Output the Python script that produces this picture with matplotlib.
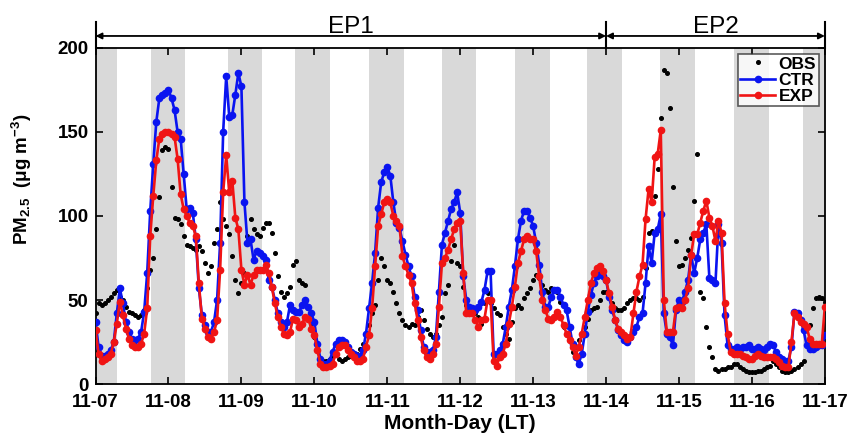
import numpy as np
import matplotlib
matplotlib.use('Agg')
import matplotlib.pyplot as plt

plt.rcParams['font.family'] = ['Liberation Sans', 'DejaVu Sans']
plt.rcParams['font.weight'] = 'bold'
plt.rcParams['mathtext.fontset'] = 'custom'
plt.rcParams['mathtext.rm'] = 'Liberation Sans:bold'
plt.rcParams['mathtext.bf'] = 'Liberation Sans:bold'
plt.rcParams['mathtext.default'] = 'bf'

# hourly PM2.5 from 11-07 00 LT to 11-17 00 LT (one row per day)
obs = [
    42, 48, 47, 48, 50, 52, 54, 56, 52, 50, 46, 43, 42, 41, 40, 41, 44, 57, 68, 75, 92, 111, 139, 141,
    140, 117, 99, 98, 95, 88, 83, 82, 81, 80, 82, 79, 72, 66, 70, 84, 92, 108, 98, 94, 89, 76, 62, 54,
    60, 66, 88, 98, 92, 89, 88, 93, 96, 96, 90, 78, 64, 55, 52, 54, 58, 71, 73, 62, 60, 59, 45, 36,
    28, 24, 14, 14, 14, 15, 17, 18, 15, 14, 15, 16, 17, 17, 18, 21, 24, 30, 35, 42, 47, 62, 75, 70,
    62, 60, 55, 48, 42, 38, 35, 34, 36, 35, 40, 44, 38, 33, 30, 28, 30, 35, 40, 54, 59, 73, 83, 72,
    70, 58, 47, 46, 46, 42, 40, 36, 48, 54, 48, 45, 42, 41, 34, 30, 27, 37, 45, 47, 45, 51, 54, 57,
    62, 65, 63, 59, 56, 55, 57, 56, 55, 49, 34, 30, 26, 19, 22, 26, 30, 34, 39, 44, 45, 46, 50, 55,
    55, 51, 48, 45, 44, 44, 45, 48, 50, 51, 51, 50, 52, 69, 90, 91, 112, 128, 158, 187, 185, 164, 117, 85,
    70, 71, 75, 80, 87, 109, 137, 55, 51, 34, 22, 16, 9, 8, 9, 9, 10, 10, 12, 12, 10, 9, 8, 7,
    7, 7, 8, 8, 9, 10, 11, 14, 12, 10, 8, 7, 7, 8, 9, 10, 12, 14, 24, 35, 45, 51, 52, 51,
    49,
]
ctr = [
    37, 22, 17, 17, 18, 20, 25, 42, 57, 48, 37, 31, 27, 26, 27, 31, 43, 66, 103, 131, 156, 170, 172, 173,
    175, 170, 163, 150, 146, 125, 104, 105, 102, 86, 57, 41, 35, 31, 31, 37, 50, 84, 150, 183, 159, 160, 172, 185,
    177, 108, 84, 86, 74, 79, 78, 76, 74, 62, 58, 50, 42, 37, 34, 37, 47, 44, 43, 43, 47, 50, 46, 42,
    37, 24, 15, 12, 12, 14, 19, 24, 26, 26, 25, 22, 19, 18, 17, 17, 20, 30, 45, 60, 78, 105, 120, 126,
    129, 124, 108, 96, 93, 85, 77, 70, 64, 52, 44, 32, 22, 19, 19, 20, 28, 55, 83, 90, 97, 104, 108, 114,
    102, 64, 50, 46, 45, 44, 46, 49, 56, 67, 67, 18, 18, 20, 24, 34, 46, 56, 70, 86, 97, 103, 103, 99,
    94, 84, 71, 55, 46, 46, 52, 56, 56, 52, 47, 44, 34, 24, 16, 12, 18, 30, 43, 53, 60, 64, 66, 64,
    62, 52, 44, 38, 32, 29, 26, 25, 28, 31, 34, 40, 42, 60, 82, 72, 90, 92, 101, 42, 30, 28, 23, 44,
    50, 49, 55, 62, 77, 66, 75, 86, 90, 95, 63, 62, 60, 95, 84, 41, 23, 21, 21, 22, 21, 22, 22, 23,
    21, 21, 22, 21, 20, 22, 24, 23, 19, 16, 15, 14, 14, 22, 43, 42, 38, 32, 23, 21, 21, 22, 23, 23,
    29,
]
exp = [
    32, 18, 14, 15, 16, 18, 25, 36, 49, 41, 33, 27, 23, 22, 22, 24, 30, 45, 88, 112, 133, 146, 149, 150,
    150, 149, 147, 134, 113, 104, 100, 96, 94, 88, 60, 39, 33, 28, 27, 31, 38, 68, 114, 136, 114, 121, 99, 92,
    68, 59, 65, 59, 65, 68, 68, 68, 71, 66, 58, 48, 40, 34, 30, 29, 31, 39, 38, 34, 36, 40, 39, 33,
    29, 20, 12, 10, 10, 11, 12, 18, 22, 23, 23, 20, 18, 16, 14, 14, 15, 22, 29, 45, 70, 94, 101, 108,
    110, 108, 100, 97, 94, 76, 70, 65, 60, 48, 38, 28, 20, 16, 15, 18, 24, 46, 72, 75, 80, 86, 92, 96,
    97, 66, 42, 42, 42, 38, 34, 38, 39, 50, 50, 14, 11, 16, 18, 24, 36, 46, 58, 72, 79, 86, 88, 86,
    86, 79, 64, 50, 44, 39, 38, 40, 43, 40, 35, 30, 26, 22, 17, 22, 30, 40, 50, 60, 66, 69, 70, 67,
    62, 54, 46, 38, 33, 31, 29, 27, 28, 42, 55, 64, 71, 98, 116, 108, 135, 137, 151, 50, 31, 31, 31, 45,
    46, 45, 50, 57, 77, 89, 89, 96, 103, 109, 99, 94, 85, 97, 90, 48, 30, 19, 18, 18, 18, 17, 16, 15,
    15, 17, 18, 17, 16, 16, 16, 16, 15, 13, 11, 10, 10, 25, 42, 40, 37, 36, 34, 27, 24, 24, 24, 24,
    46,
]

# night-time shading, hours since 11-07 00 LT
night_start = [0, 18.1, 43.5, 65.8, 90.0, 114.0, 138.0, 161.7, 185.8, 210.0, 232.8]
night_end = [7.1, 29.6, 54.9, 77.2, 101.5, 125.3, 149.5, 173.1, 197.3, 221.5, 240]

day_ticks = [0, 24, 48, 72, 96, 120, 144, 168, 192, 216, 240]
day_labels = ['11-07', '11-08', '11-09', '11-10', '11-11', '11-12',
              '11-13', '11-14', '11-15', '11-16', '11-17']

# episodes (start hour, end hour, name)
episodes = [(0, 168, 'EP1'), (168, 240, 'EP2')]

hours = np.arange(len(ctr))

fig = plt.figure(figsize=(8.53, 4.34), dpi=100)
ax = fig.add_axes([0.112, 0.115, 0.855, 0.775])

for s, e in zip(night_start, night_end):
    ax.axvspan(s, e, color='#d9d9d9', lw=0, zorder=0)

ax.plot(hours, obs, 'o', color='black', markersize=2.6, lw=0, label='OBS', zorder=2)
ax.plot(hours, ctr, '-o', color='#0a14f0', markersize=4.5, lw=1.9, label='CTR', zorder=3)
ax.plot(hours, exp, '-o', color='#f01414', markersize=4.5, lw=1.9, label='EXP', zorder=4)

ax.set_xlim(0, 240)
ax.set_ylim(0, 200)
ax.set_xticks(day_ticks)
ax.set_xticklabels(day_labels)
ax.set_yticks([0, 50, 100, 150, 200])
ax.tick_params(direction='in', top=True, right=True, labelsize=13.5, length=5, width=1.2)
ax.tick_params(axis='x', pad=7)
ax.tick_params(axis='y', pad=5)
for lab in ax.get_xticklabels() + ax.get_yticklabels():
    lab.set_fontweight('bold')
for sp in ax.spines.values():
    sp.set_linewidth(1.3)

ax.set_xlabel('Month-Day (LT)', fontsize=15, fontweight='bold', labelpad=2)
ax.set_ylabel(r'PM$_{2.5}$  (μg m$^{-3}$)', fontsize=13.5, fontweight='bold')
ax.yaxis.set_label_coords(-0.085, 0.61)

leg = ax.legend(loc='upper right', fontsize=12.5, frameon=True, fancybox=False,
                edgecolor='#333333', borderpad=0.15, handlelength=2.0, handletextpad=0.2,
                labelspacing=0.05, borderaxespad=0.35)
leg.get_frame().set_linewidth(1.2)
for t in leg.get_texts():
    t.set_fontweight('bold')

# episode arrows above the axes
trans = ax.get_xaxis_transform()
for s, e, name in episodes:
    ax.annotate('', xy=(s, 1.035), xytext=(e, 1.035), xycoords=trans, textcoords=trans,
                arrowprops=dict(arrowstyle='<|-|>', color='black', lw=1.3,
                                mutation_scale=9, shrinkA=0, shrinkB=0),
                annotation_clip=False)
    ax.text((s + e) / 2, 1.062, name, transform=trans, ha='center', va='center',
            fontsize=17.5, fontweight='normal')
for x in [0, 168, 240]:
    ax.plot([x, x], [1.0, 1.078], transform=trans, color='black', lw=1.5, clip_on=False)

fig.savefig('out.png', dpi=100)
